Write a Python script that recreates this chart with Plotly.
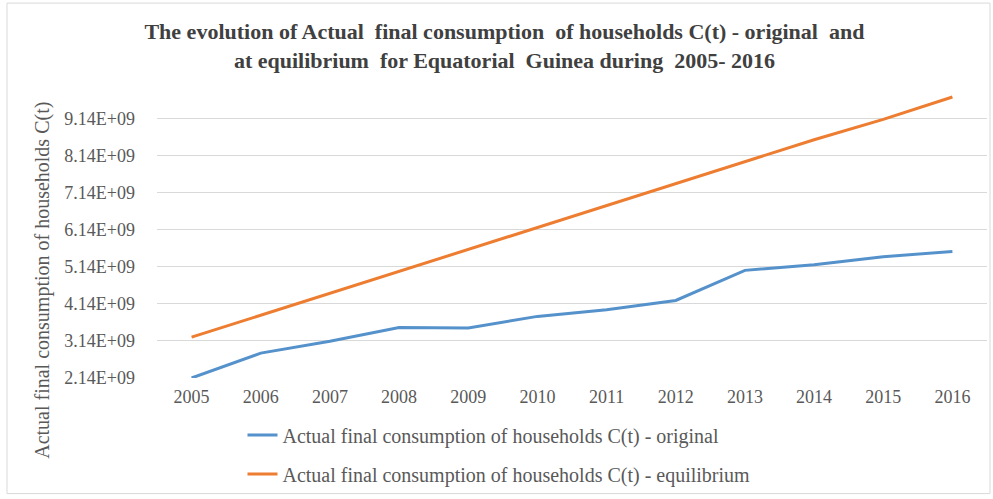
import plotly.graph_objects as go

years = ["2005", "2006", "2007", "2008", "2009", "2010", "2011", "2012", "2013", "2014", "2015", "2016"]
original = [2.14e9, 2.81e9, 3.13e9, 3.50e9, 3.49e9, 3.80e9, 3.98e9, 4.23e9, 5.04e9, 5.19e9, 5.41e9, 5.55e9]
equilibrium = [3.24e9, 3.83e9, 4.42e9, 5.01e9, 5.59e9, 6.18e9, 6.77e9, 7.37e9, 7.97e9, 8.56e9, 9.11e9, 9.71e9]
y_ticks = [2.14e9, 3.14e9, 4.14e9, 5.14e9, 6.14e9, 7.14e9, 8.14e9, 9.14e9]
y_labels = [f"{v:.2E}" for v in y_ticks]

name_orig = "Actual final consumption of households C(t) - original"
name_eq = "Actual final consumption of households C(t) - equilibrium"
y_title = "Actual final consumption of households C(t)"
title = ("The evolution of Actual  final consumption  of households C(t) - original  and<br>"
         "at equilibrium  for Equatorial  Guinea during  2005- 2016")

FONT = "Liberation Serif, Times New Roman, serif"
TXT = "#595959"

fig = go.Figure()
fig.add_trace(go.Scatter(x=years, y=original, mode="lines", name=name_orig,
                         line=dict(color="#5592CB", width=3), legendgroup="a"))
fig.add_trace(go.Scatter(x=years, y=equilibrium, mode="lines", name=name_eq,
                         line=dict(color="#ED7D31", width=3), legendgroup="b"))

fig.update_layout(
    width=993, height=499,
    margin=dict(l=157, r=6, t=90, b=121, autoexpand=False),
    paper_bgcolor="white", plot_bgcolor="white",
    font=dict(family=FONT, color=TXT, size=18),
    title=dict(text=title, x=0.508, xanchor="center", y=0.922, yanchor="top",
               font=dict(family=FONT, size=22, color="#404040", weight="bold")),
    showlegend=True,
    legend=dict(x=0.103, xanchor="left", y=-0.13, yanchor="top", orientation="v",
                tracegroupgap=10, font=dict(size=20, color=TXT),
                bgcolor="rgba(0,0,0,0)"),
    xaxis=dict(type="category", range=[-0.5, 11.5], showgrid=False, showline=False,
               zeroline=False, ticks="", ticklabelstandoff=6,
               tickfont=dict(size=18, color=TXT), fixedrange=True),
    yaxis=dict(range=[2.14e9, 9.90e9], tickvals=y_ticks, ticktext=y_labels,
               showgrid=True, gridcolor="#D9D9D9", gridwidth=1, zeroline=False,
               showline=False, ticks="", ticklabelstandoff=21,
               tickfont=dict(size=18, color=TXT)),
    annotations=[dict(text=y_title, xref="paper", yref="paper",
                      x=(43 - 157) / 830, y=(378.3 - 281) / 288.3,
                      xanchor="center", yanchor="middle", textangle=-90,
                      showarrow=False, font=dict(size=20, color=TXT))],
    shapes=[dict(type="rect", xref="paper", yref="paper",
                 x0=(7 - 157) / 830, x1=(990 - 157) / 830,
                 y0=(378.3 - 494) / 288.3, y1=(378.3 - 3) / 288.3,
                 line=dict(color="#D9D9D9", width=1), layer="below")],
)

fig.write_html("out.html", config={"displayModeBar": False},
               post_script="document.body.style.margin='0px';")
